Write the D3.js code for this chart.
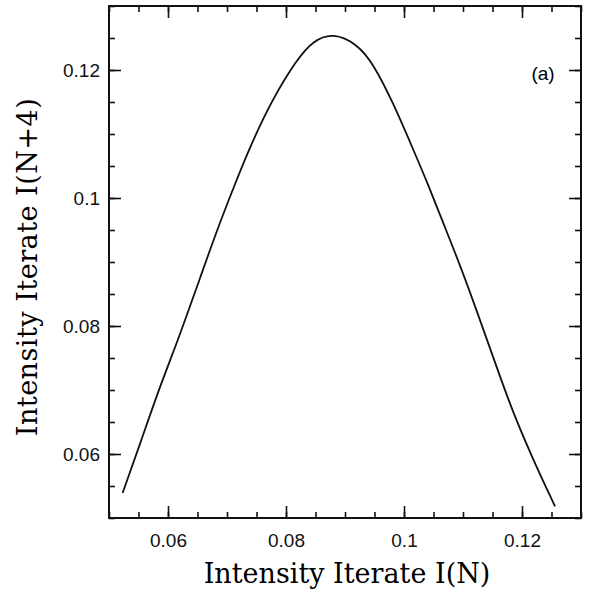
<!DOCTYPE html>
<html>
<head>
<meta charset="utf-8">
<script src="https://cdn.jsdelivr.net/npm/d3@7"></script>
<style>
  body { margin: 0; background: #fff; }
  .tick text { font-family: "Liberation Sans", Arial, sans-serif; font-size: 19px; fill: #111; }
  .domain { display: none; }
  .tick line { stroke: #111; stroke-width: 1.6; }
</style>
</head>
<body>
<script>
// data
const iterN = [0.0523, 0.0555, 0.0586, 0.0617, 0.0649, 0.0683, 0.0714, 0.0739, 0.0776,
  0.0818, 0.0846, 0.0880, 0.0920, 0.0948, 0.0982, 0.1016, 0.1040, 0.1067, 0.1098,
  0.1129, 0.1157, 0.1185, 0.1219, 0.1256]
const iterN4 = [0.0539, 0.0622, 0.0705, 0.0778, 0.0861, 0.0950, 0.1023, 0.1080, 0.1153,
  0.1216, 0.1246, 0.1258, 0.1241, 0.1210, 0.1148, 0.1075, 0.1023, 0.0960, 0.0888,
  0.0809, 0.0736, 0.0664, 0.0591, 0.0518]
const majorTicks = [0.06, 0.08, 0.1, 0.12]
const tickLabels = ["0.06", "0.08", "0.1", "0.12"]
const minorTicks = d3.range(0.05, 0.1301, 0.005)

const W = 593, H = 590
const L = 109, R = 581, T = 6, B = 518

const svg = d3.select("body").append("svg")
    .attr("width", W)
    .attr("height", H)

const x = d3.scaleLinear().domain([0.05, 0.13]).range([L, R])
const y = d3.scaleLinear().domain([0.05, 0.13]).range([B, T])
const fmt = (d) => tickLabels[majorTicks.findIndex((t) => Math.abs(t - d) < 1e-9)]

// bottom / left with labels, top / right mirrored
svg.append("g").attr("transform", `translate(0,${B})`)
    .call(d3.axisBottom(x).tickValues(majorTicks).tickFormat(fmt).tickSize(-12).tickPadding(16))
svg.append("g").attr("transform", `translate(0,${B})`)
    .call(d3.axisBottom(x).tickValues(minorTicks).tickFormat("").tickSize(-6))
svg.append("g").attr("transform", `translate(0,${T})`)
    .call(d3.axisTop(x).tickValues(majorTicks).tickFormat("").tickSize(-12))
svg.append("g").attr("transform", `translate(0,${T})`)
    .call(d3.axisTop(x).tickValues(minorTicks).tickFormat("").tickSize(-6))

svg.append("g").attr("transform", `translate(${L},0)`)
    .call(d3.axisLeft(y).tickValues(majorTicks).tickFormat(fmt).tickSize(-12).tickPadding(9))
svg.append("g").attr("transform", `translate(${L},0)`)
    .call(d3.axisLeft(y).tickValues(minorTicks).tickFormat("").tickSize(-6))
svg.append("g").attr("transform", `translate(${R},0)`)
    .call(d3.axisRight(y).tickValues(majorTicks).tickFormat("").tickSize(-12))
svg.append("g").attr("transform", `translate(${R},0)`)
    .call(d3.axisRight(y).tickValues(minorTicks).tickFormat("").tickSize(-6))

svg.append("rect")
    .attr("x", L).attr("y", T)
    .attr("width", R - L).attr("height", B - T)
    .attr("fill", "none")
    .attr("stroke", "#111")
    .attr("stroke-width", 2)

const line = d3.line()
    .x((d) => x(d[0]))
    .y((d) => y(d[1]))
    .curve(d3.curveBasis)

svg.append("path")
    .datum(d3.zip(iterN, iterN4))
    .attr("d", line)
    .attr("fill", "none")
    .attr("stroke", "#111")
    .attr("stroke-width", 1.8)

svg.append("text")
    .attr("x", 543).attr("y", 80)
    .attr("text-anchor", "middle")
    .style("font-family", "Liberation Sans, Arial, sans-serif")
    .style("font-size", "19px")
    .text("(a)")

svg.append("text")
    .attr("x", 347).attr("y", 583)
    .attr("text-anchor", "middle")
    .style("font-family", "DejaVu Serif, serif")
    .style("font-size", "27px")
    .text("Intensity Iterate I(N)")

svg.append("text")
    .attr("transform", "translate(37,267) rotate(-90)")
    .attr("text-anchor", "middle")
    .style("font-family", "DejaVu Serif, serif")
    .style("font-size", "27px")
    .style("letter-spacing", "0.5px")
    .text("Intensity Iterate I(N+4)")
</script>
</body>
</html>
